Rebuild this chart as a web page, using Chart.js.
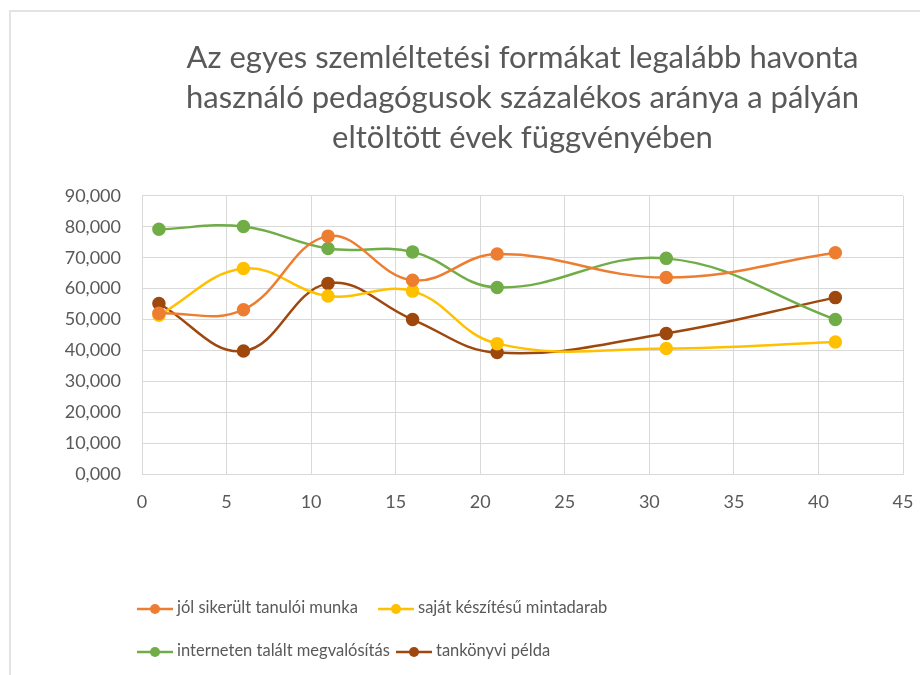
<!DOCTYPE html>
<html>
<head>
<meta charset="utf-8">
<script src="https://cdn.jsdelivr.net/npm/chart.js@4/dist/chart.umd.min.js"></script>
<style>
  body { margin: 0; background: #fff; }
  #wrap { position: relative; width: 920px; height: 675px; overflow: hidden; }
  #frame { position: absolute; left: 9px; top: 10px; width: 1000px; height: 1000px;
           border-left: 2px solid #e3e3e3; border-top: 2px solid #e3e3e3; }
  canvas { position: absolute; left: 0; top: 0; }
  .lg { position: absolute; font-family: Lato, "Open Sans", sans-serif; font-size: 16.5px;
        color: #595959; white-space: nowrap; line-height: 20px; }
  .lg canvas { position: static; vertical-align: middle; margin-right: 4px; }
</style>
</head>
<body>
<div id="wrap">
  <div id="frame"></div>
  <canvas id="chart" width="920" height="675"></canvas>
  <div id="legend"></div>
</div>
<script>
// years spent in the profession
const years = [1, 6, 11, 16, 21, 31, 41];

const seriesNames = [
  "jól sikerült tanulói munka",
  "saját készítésű mintadarab",
  "interneten talált megvalósítás",
  "tankönyvi példa"
];
const seriesColors = ["#ED7D31", "#FFC000", "#70AD47", "#9E480E"];

const joliMunka   = [52.0, 53.2, 77.0, 62.7, 71.2, 63.6, 71.6];
const sajatMinta  = [51.4, 66.5, 57.6, 59.2, 42.2, 40.6, 42.7];
const internetes  = [79.2, 80.1, 73.0, 71.9, 60.4, 69.8, 50.0];
const tankonyvi   = [55.2, 39.8, 61.7, 50.0, 39.3, 45.5, 57.1];

const allSeries = [joliMunka, sajatMinta, internetes, tankonyvi];

const titleLines = [
  "Az egyes szemléltetési formákat legalább havonta",
  "használó pedagógusok százalékos aránya a pályán",
  "eltöltött évek függvényében"
];

const gray = "#595959";
const gridColor = "#d9d9d9";
const font = "Lato, 'Open Sans', sans-serif";

var datasets = allSeries.map((vals, i) => ({
  label: seriesNames[i],
  data: vals.map((v, j) => ({ x: years[j], y: v })),
  borderColor: seriesColors[i],
  backgroundColor: seriesColors[i],
  borderWidth: 2.5,
  pointRadius: 5.5,
  pointHoverRadius: 5.5,
  showLine: true,
  tension: 0.4
}));

new Chart(document.getElementById('chart'), {
  type: 'scatter',
  data: { datasets: datasets },
  options: {
    responsive: false,
    animation: false,
    layout: { padding: { left: 0, right: 17, top: 0, bottom: 161 } },
    plugins: {
      legend: { display: false },
      tooltip: { enabled: false },
      title: {
        display: true,
        fullSize: false,
        text: titleLines,
        color: gray,
        font: { family: font, size: 31, weight: 'normal', lineHeight: 1.29 },
        padding: { top: 38, bottom: 38 }
      }
    },
    scales: {
      x: {
        type: 'linear',
        min: 0, max: 45,
        ticks: { stepSize: 5, color: gray, font: { family: font, size: 18 }, padding: 17 },
        grid: { color: gridColor, drawTicks: false },
        border: { color: gridColor },
        afterFit: (s) => { s.height = 40; s.paddingLeft = 0; s.paddingRight = 0; }
      },
      y: {
        min: 0, max: 90,
        ticks: {
          stepSize: 10, color: gray, font: { family: font, size: 18 }, padding: 21,
          callback: (v) => v.toFixed(3).replace('.', ',')
        },
        grid: { color: gridColor, drawTicks: false },
        border: { display: false },
        afterFit: (s) => { s.width = 142; s.paddingTop = 0; s.paddingBottom = 0; }
      }
    }
  }
});

// legend drawn as html, two columns
const legendPos = [[137, 597], [378, 597], [137, 640], [396, 640]];
const legendEl = document.getElementById('legend');
seriesNames.forEach((name, i) => {
  var item = document.createElement('div');
  item.className = 'lg';
  item.style.left = legendPos[i][0] + 'px';
  item.style.top = legendPos[i][1] + 'px';
  var c = document.createElement('canvas');
  c.width = 36; c.height = 14;
  var ctx = c.getContext('2d');
  ctx.strokeStyle = seriesColors[i];
  ctx.fillStyle = seriesColors[i];
  ctx.lineWidth = 2.5;
  ctx.beginPath(); ctx.moveTo(0, 7); ctx.lineTo(36, 7); ctx.stroke();
  ctx.beginPath(); ctx.arc(18, 7, 5, 0, Math.PI * 2); ctx.fill();
  item.appendChild(c);
  item.appendChild(document.createTextNode(name));
  legendEl.appendChild(item);
});
</script>
</body>
</html>
